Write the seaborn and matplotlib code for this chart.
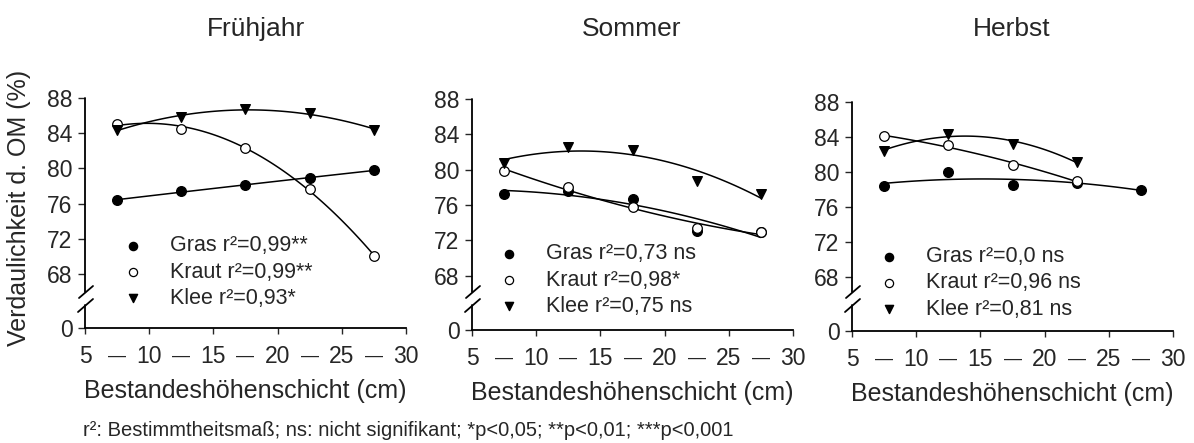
import numpy as np
import matplotlib
matplotlib.use("Agg")
import matplotlib.pyplot as plt
import seaborn as sns

sns.set_style("ticks")
plt.rcParams['font.family'] = ['Liberation Sans', 'DejaVu Sans']

# ---------------- data ----------------
x_layers = [7.5, 12.5, 17.5, 22.5, 27.5]
x_layers4 = [7.5, 12.5, 17.5, 22.5]

seasons = ["Frühjahr", "Sommer", "Herbst"]

gras_fj = [76.4, 77.4, 78.1, 78.9, 79.8]
kraut_fj = [85.0, 84.5, 82.3, 77.7, 70.0]
klee_fj = [84.4, 85.8, 86.7, 86.3, 84.4]

gras_so = [77.3, 77.6, 76.7, 73.1, 72.9]
kraut_so = [79.9, 78.0, 75.8, 73.4, 72.9]
klee_so = [80.8, 82.6, 82.2, 78.7, 77.3]

gras_he = [78.4, 80.0, 78.5, 78.8, 78.0]
kraut_he = [84.1, 83.1, 80.8, 79.0]
klee_he = [82.4, 84.4, 83.2, 81.2]

labels_fj = ["Gras r²=0,99**", "Kraut r²=0,99**", "Klee r²=0,93*"]
labels_so = ["Gras r²=0,73 ns", "Kraut r²=0,98*", "Klee r²=0,75 ns"]
labels_he = ["Gras r²=0,0 ns", "Kraut r²=0,96 ns", "Klee r²=0,81 ns"]

x_major = [5, 10, 15, 20, 25, 30]
x_minor = [7.5, 12.5, 17.5, 22.5, 27.5]
y_ticks = [0, 68, 72, 76, 80, 84, 88]

panels = [
    (seasons[0], (x_layers, gras_fj), (x_layers, kraut_fj), (x_layers, klee_fj), labels_fj),
    (seasons[1], (x_layers, gras_so), (x_layers, kraut_so), (x_layers, klee_so), labels_so),
    (seasons[2], (x_layers, gras_he), (x_layers4, kraut_he), (x_layers4, klee_he), labels_he),
]

# broken y-axis scale: 0..64 compressed, >=64 linear
Y0 = 61.86
def fwd(y):
    y = np.asarray(y, dtype=float)
    return np.where(y >= 64, y, Y0 + y * (64 - Y0) / 64.0)
def inv(u):
    u = np.asarray(u, dtype=float)
    return np.where(u >= 64, u, (u - Y0) * 64.0 / (64 - Y0))

W, H = 1194, 443
fig = plt.figure(figsize=(W / 100, H / 100), dpi=100)

# axes boxes in pixels: left, right, top(88), bottom(0)
boxes = [(85, 406, 98, 328), (472, 793, 99, 330), (852, 1173, 102, 331)]
title_x = [256, 632, 1012]
leg_pos = [(0.116, 0.243), (0.082, 0.216), (0.081, 0.21)]

TK = 16.5   # tick labels
LB = 18     # axis labels
LG = 15.5   # legend
for i, (title, g, k, kl, labs) in enumerate(panels):
    l, r, t, b = boxes[i]
    ax = fig.add_axes([l / W, 1 - b / H, (r - l) / W, (b - t) / H])
    ax.set_yscale('function', functions=(fwd, inv))
    ax.set_xlim(5, 30)
    ax.set_ylim(0, 88)

    for (xs, ys) in (g, k, kl):
        sns.regplot(x=np.array(xs), y=np.array(ys), order=2, ci=None, scatter=False,
                    ax=ax, color='black', line_kws=dict(lw=1.1, zorder=2))

    h1 = ax.scatter(g[0], g[1], marker='o', s=48, color='black', zorder=3, label=labs[0])
    h2 = ax.scatter(k[0], k[1], marker='o', s=48, facecolor='white', edgecolor='black',
                    linewidth=0.9, zorder=4, label=labs[1])
    h3 = ax.scatter(kl[0], kl[1], marker='v', s=48, color='black', zorder=5, label=labs[2])

    ax.set_xticks(x_major)
    ax.set_xticklabels([str(v) for v in x_major])
    ax.set_xticks(x_minor, minor=True)
    ax.set_xticklabels(["—"] * len(x_minor), minor=True)
    ax.tick_params(axis='x', which='minor', length=0, labelsize=13, pad=14)
    ax.tick_params(axis='x', which='major', length=4, width=1, labelsize=TK, pad=8, direction='out')
    ax.set_yticks(y_ticks)
    ax.set_yticklabels([str(v) for v in y_ticks])
    ax.yaxis.set_minor_locator(matplotlib.ticker.NullLocator())
    ax.tick_params(axis='y', length=5, width=1, labelsize=TK, pad=4, direction='out')
    ax.set_xlabel("Bestandeshöhenschicht (cm)", fontsize=LB, labelpad=8)

    for s in ('top', 'right'):
        ax.spines[s].set_visible(False)
    ax.spines['left'].set_visible(False)
    ax.spines['bottom'].set_linewidth(1.3)
    ax.spines['bottom'].set_color('black')

    # broken left spine
    hpx = b - t
    wpx = r - l
    def fy(py):
        return (b - py) / hpx
    def fx(px):
        return px / wpx
    kw = dict(transform=ax.transAxes, clip_on=False, color='black', lw=1.3)
    ax.plot([0, 0], [fy(292), 1], **kw)
    ax.plot([0, 0], [0, fy(305)], **kw)
    ax.plot([fx(-6), fx(8)], [fy(298), fy(286)], **kw)
    ax.plot([fx(-7), fx(8)], [fy(312), fy(299)], **kw)

    ax.text((title_x[i] - l) / wpx, fy(29), title, transform=ax.transAxes,
            ha='center', va='center', fontsize=19)

    ax.legend(handles=[h1, h2, h3], loc='center left', bbox_to_anchor=leg_pos[i],
              frameon=False, fontsize=LG, borderpad=0, borderaxespad=0,
              handlelength=1.0, handletextpad=1.22, labelspacing=0.24,
              markerscale=0.85)
    if i == 0:
        ax.set_ylabel("Verdaulichkeit d. OM (%)", fontsize=LB)
        ax.yaxis.set_label_coords(fx(31 - l), 0.52)

fig.text(83 / W, 1 - 431 / H,
         "r²: Bestimmtheitsmaß; ns: nicht signifikant; *p<0,05; **p<0,01; ***p<0,001",
         ha='left', va='center', fontsize=14.5)

fig.savefig("out.png", dpi=100)
